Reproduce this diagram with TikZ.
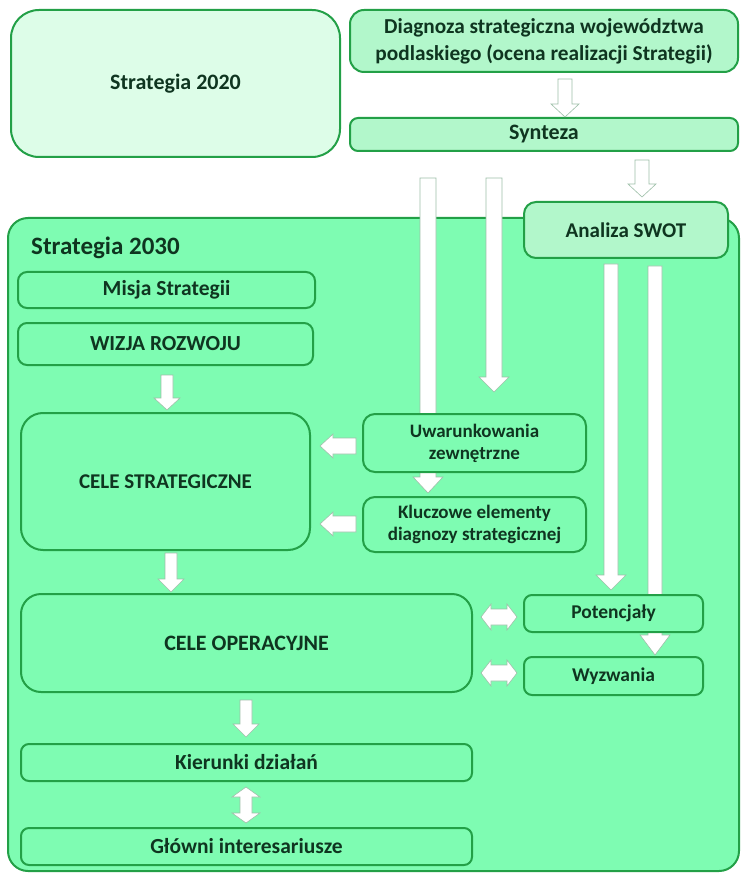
\documentclass[tikz,border=0pt]{standalone}
\usepackage{fontspec}
\setmainfont{Carlito}
\definecolor{bigfill}{HTML}{7EFCB2}
\definecolor{edge}{HTML}{23A047}
\definecolor{pale}{HTML}{DDFDE8}
\definecolor{mid}{HTML}{B2F7CB}
\definecolor{txt}{HTML}{0F3520}
\definecolor{arredge}{HTML}{9DBFA8}
% down block arrow: x, ytop, ytip, half shaft, half head, head length
\newcommand{\arrD}[6]{\draw[blockarrow] (#1-#4,#2) -- (#1+#4,#2) -- (#1+#4,#3-#6) -- (#1+#5,#3-#6) -- (#1,#3) -- (#1-#5,#3-#6) -- (#1-#4,#3-#6) -- cycle;}
% left block arrow: xtip, xtail, y, half shaft, half head, head length
\newcommand{\arrL}[6]{\draw[blockarrow] (#2,#3-#4) -- (#1+#6,#3-#4) -- (#1+#6,#3-#5) -- (#1,#3) -- (#1+#6,#3+#5) -- (#1+#6,#3+#4) -- (#2,#3+#4) -- cycle;}
% left-right double arrow: x1, x2, y, half shaft, half head, head length
\newcommand{\arrLR}[6]{\draw[blockarrow] (#1,#3) -- (#1+#6,#3-#5) -- (#1+#6,#3-#4) -- (#2-#6,#3-#4) -- (#2-#6,#3-#5) -- (#2,#3) -- (#2-#6,#3+#5) -- (#2-#6,#3+#4) -- (#1+#6,#3+#4) -- (#1+#6,#3+#5) -- cycle;}
% up-down double arrow: x, y1, y2, half shaft, half head, head length
\newcommand{\arrUD}[6]{\draw[blockarrow] (#1,#2) -- (#1+#5,#2+#6) -- (#1+#4,#2+#6) -- (#1+#4,#3-#6) -- (#1+#5,#3-#6) -- (#1,#3) -- (#1-#5,#3-#6) -- (#1-#4,#3-#6) -- (#1-#4,#2+#6) -- (#1-#5,#2+#6) -- cycle;}
\newcommand{\fs}[1]{\fontsize{#1}{#1}\selectfont}
\begin{document}
\begin{tikzpicture}[x=1pt,y=-1pt,
  box/.style={draw=edge, line width=2pt, fill=bigfill, rectangle, inner sep=0pt,
    text=txt, font=\bfseries\fontsize{19}{22}\selectfont, align=center},
  blockarrow/.style={draw=arredge, line width=0.6pt, fill=white, line join=miter}
]
\useasboundingbox (0,0) rectangle (740,874);
\fill[white] (0,0) rectangle (740,874);

% top boxes
\node[box, fill=pale, rounded corners=28pt, minimum width=329pt, minimum height=147pt,
  font=\bfseries\fontsize{22}{26}\selectfont] (s2020) at (175.5,83.5) {Strategia 2020};
\node[box, fill=mid, rounded corners=14pt, minimum width=388pt, minimum height=62pt,
  font=\bfseries\fontsize{21.3}{27}\selectfont] (diag) at (544,41)
  {Diagnoza strategiczna województwa\\podlaskiego (ocena realizacji Strategii)};
\node[box, fill=mid, rounded corners=8pt, minimum width=388pt, minimum height=33pt,
  font=\bfseries\fs{22}] (synt) at (544,134.5) {Synteza};

\arrD{565}{79}{117}{7}{14}{13}
\arrD{642}{160}{197}{7}{14}{13}

% big container
\node[box, rounded corners=20pt, minimum width=731pt, minimum height=653pt] (s2030) at (373.5,544.5) {};
\node[anchor=west, text=txt, font=\bfseries\fs{25}, inner sep=0pt] (s2030t) at (31,248) {Strategia 2030};

% long arrows
\arrD{428}{178}{493}{8}{15}{16}
\arrD{494}{178}{392}{8}{15}{15}
\arrD{611}{264}{590}{7}{15}{15}
\arrD{655}{266}{655}{7}{15}{20}

\node[box, fill=mid, rounded corners=12pt, minimum width=204pt, minimum height=56pt,
  font=\bfseries\fs{21}] (swot) at (626,230) {Analiza SWOT};

% left column
\node[box, rounded corners=9pt, minimum width=297pt, minimum height=36pt, font=\bfseries\fs{21.5}] (misja) at (166.5,290) {Misja Strategii};
\node[box, rounded corners=9pt, minimum width=295pt, minimum height=42pt, font=\bfseries\fs{21.5}] (wizja) at (165.5,344) {WIZJA ROZWOJU};
\node[box, rounded corners=22pt, minimum width=289pt, minimum height=137pt, font=\bfseries\fs{21}] (celestr) at (165.5,481.5) {CELE STRATEGICZNE};
\node[box, rounded corners=12pt, minimum width=223pt, minimum height=58pt] (uwar) at (474.5,443) {Uwarunkowania\\zewnętrzne};
\node[box, rounded corners=12pt, minimum width=223pt, minimum height=55pt] (klucz) at (474.5,524.5) {Kluczowe elementy\\diagnozy strategicznej};
\node[box, rounded corners=20pt, minimum width=451pt, minimum height=98pt, font=\bfseries\fs{22}] (celeop) at (246.5,643) {CELE OPERACYJNE};
\node[box, rounded corners=8pt, minimum width=179pt, minimum height=37pt, font=\bfseries\fs{19.5}] (poten) at (613.5,613.5) {Potencjały};
\node[box, rounded corners=8pt, minimum width=179pt, minimum height=38pt, font=\bfseries\fs{19.5}] (wyzw) at (613.5,676) {Wyzwania};
\node[box, rounded corners=8pt, minimum width=451pt, minimum height=37pt, font=\bfseries\fs{21.5}] (kier) at (246.5,762.5) {Kierunki działań};
\node[box, rounded corners=8pt, minimum width=451pt, minimum height=37pt, font=\bfseries\fs{21.5}] (glow) at (246.5,846.5) {Główni interesariusze};

% small arrows
\arrD{167}{375}{410}{6}{13}{12}
\arrD{171}{553}{592}{6}{13}{13}
\arrD{246}{700}{737}{6}{13}{13}
\arrUD{246}{787}{823}{6}{14}{10}
\arrL{320}{356}{446}{8}{12}{13}
\arrL{320}{356}{524}{8}{12}{13}
\arrLR{481}{517}{617}{8}{13}{10}
\arrLR{481}{517}{673}{8}{13}{10}
\end{tikzpicture}
\end{document}
